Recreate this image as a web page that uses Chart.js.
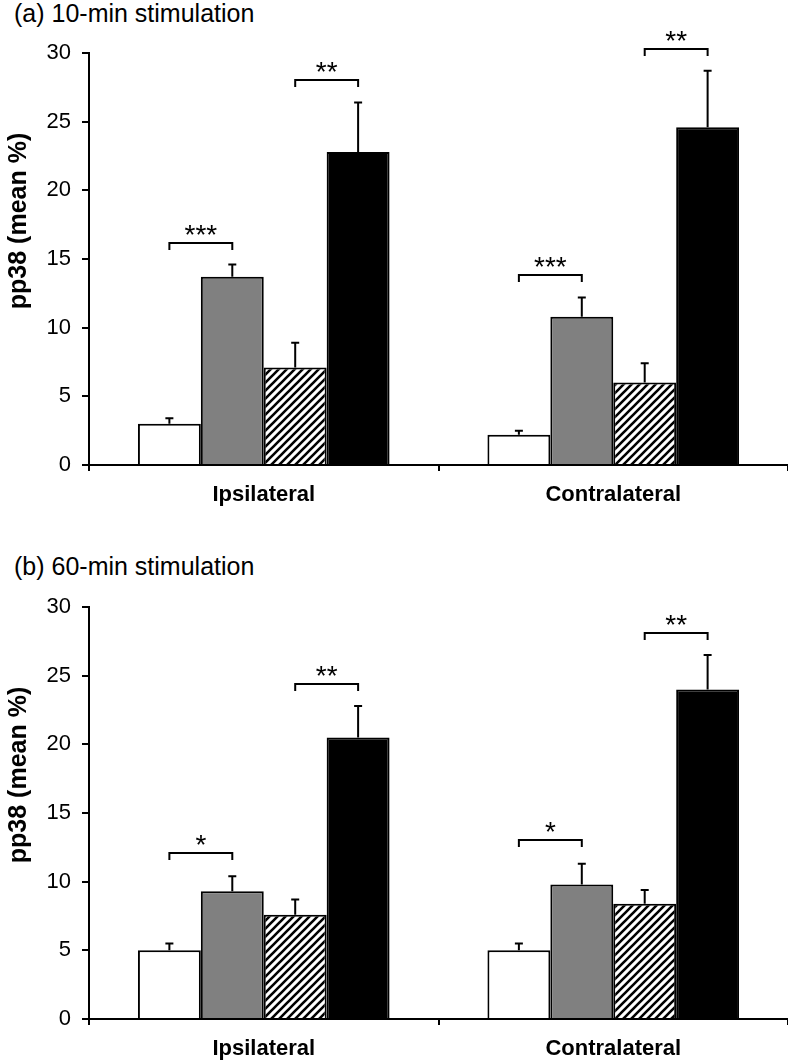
<!DOCTYPE html>
<html>
<head>
<meta charset="utf-8">
<script src="https://cdn.jsdelivr.net/npm/chart.js@4/dist/chart.umd.min.js"></script>
<style>
  body { margin: 0; background: #fff; font-family: "Liberation Sans", Arial, sans-serif; }
  .panel { position: absolute; left: 0; width: 788px; height: 532px; }
  .title { position: absolute; left: 14px; font-size: 25px; color: #000; line-height: 26px; }
</style>
</head>
<body>
<div class="title" style="top:0px">(a) 10-min stimulation</div>
<div class="panel" style="top:0"><canvas id="chartA" width="788" height="532"></canvas></div>
<div class="title" style="top:553px">(b) 60-min stimulation</div>
<div class="panel" style="top:554px"><canvas id="chartB" width="788" height="532"></canvas></div>
<script>
// categories
const sides = ['Ipsilateral', 'Contralateral'];
const yTicks = [0, 5, 10, 15, 20, 25, 30];
const yTitle = 'pp38 (mean %)';

// (a) 10-min stimulation
const a_white = [3.0, 2.2];
const a_whiteErr = [0.4, 0.3];
const a_gray = [13.7, 10.8];
const a_grayErr = [0.9, 1.4];
const a_hatch = [7.1, 6.0];
const a_hatchErr = [1.8, 1.4];
const a_black = [22.8, 24.6];
const a_blackErr = [3.6, 4.1];
// significance brackets: [category, bar from, bar to, height, stars]
const a_brackets = [
    [0, 0, 1, 16.2, '***'],
    [0, 2, 3, 28.0, '**'],
    [1, 0, 1, 13.8, '***'],
    [1, 2, 3, 30.3, '**']
];

// (b) 60-min stimulation
const b_white = [5.0, 5.0];
const b_whiteErr = [0.5, 0.5];
const b_gray = [9.3, 9.8];
const b_grayErr = [1.1, 1.5];
const b_hatch = [7.6, 8.4];
const b_hatchErr = [1.1, 1.0];
const b_black = [20.5, 24.0];
const b_blackErr = [2.3, 2.5];
const b_brackets = [
    [0, 0, 1, 12.1, '*'],
    [0, 2, 3, 24.4, '**'],
    [1, 0, 1, 13.0, '*'],
    [1, 2, 3, 28.1, '**']
];

const fontName = '"Liberation Sans", Arial, sans-serif';
Chart.defaults.font.family = fontName;
Chart.defaults.color = '#000';

// diagonal stripes for the third bar
function makeHatch() {
    const c = document.createElement('canvas');
    c.width = 8;
    c.height = 8;
    const g = c.getContext('2d');
    g.fillStyle = '#fff';
    g.fillRect(0, 0, 8, 8);
    g.strokeStyle = '#000';
    g.lineWidth = 2.6;
    g.beginPath();
    g.moveTo(-2, 10); g.lineTo(10, -2);
    g.moveTo(-2, 2); g.lineTo(2, -2);
    g.moveTo(6, 10); g.lineTo(10, 6);
    g.stroke();
    return c.getContext('2d').createPattern(c, 'repeat');
}

// error bars (upper only) from the errors kept on each dataset
const errorBars = {
    id: 'errorBars',
    afterDatasetsDraw(chart) {
        const ctx = chart.ctx;
        const y = chart.scales.y;
        ctx.save();
        ctx.strokeStyle = '#000';
        ctx.lineWidth = 2;
        chart.data.datasets.forEach((ds, i) => {
            chart.getDatasetMeta(i).data.forEach((bar, j) => {
                const top = y.getPixelForValue(ds.data[j] + ds.errors[j]);
                ctx.beginPath();
                ctx.moveTo(bar.x, bar.y);
                ctx.lineTo(bar.x, top);
                ctx.moveTo(bar.x - 4, top);
                ctx.lineTo(bar.x + 4, top);
                ctx.stroke();
            });
        });
        ctx.restore();
    }
};

// significance brackets with stars
const sigBrackets = {
    id: 'sigBrackets',
    afterDatasetsDraw(chart, args, opts) {
        const ctx = chart.ctx;
        const y = chart.scales.y;
        ctx.save();
        ctx.strokeStyle = '#000';
        ctx.fillStyle = '#000';
        ctx.lineWidth = 2;
        ctx.font = '28px ' + fontName;
        ctx.textAlign = 'center';
        ctx.textBaseline = 'alphabetic';
        opts.list.forEach(b => {
            const x1 = chart.getDatasetMeta(b[1]).data[b[0]].x;
            const x2 = chart.getDatasetMeta(b[2]).data[b[0]].x;
            const py = Math.round(y.getPixelForValue(b[3]));
            ctx.beginPath();
            ctx.moveTo(x1, py + 7);
            ctx.lineTo(x1, py);
            ctx.lineTo(x2, py);
            ctx.lineTo(x2, py + 7);
            ctx.stroke();
            ctx.fillText(b[4], (x1 + x2) / 2, py + 1);
        });
        ctx.restore();
    }
};

// rotated y axis title, sitting a little above the middle of the axis
const axisTitle = {
    id: 'axisTitle',
    afterDraw(chart) {
        const ctx = chart.ctx;
        const area = chart.chartArea;
        ctx.save();
        ctx.translate(19, (area.top + area.bottom) / 2 - 38);
        ctx.rotate(-Math.PI / 2);
        ctx.font = 'bold 25px ' + fontName;
        ctx.fillStyle = '#000';
        ctx.textAlign = 'center';
        ctx.textBaseline = 'middle';
        ctx.fillText(yTitle, 0, 0);
        ctx.restore();
    }
};

function makeChart(id, white, whiteErr, gray, grayErr, hatch, hatchErr, black, blackErr, brackets) {
    const barStyle = { borderColor: '#000', borderWidth: 2, barPercentage: 1.0, categoryPercentage: 0.72 };
    return new Chart(document.getElementById(id), {
        type: 'bar',
        data: {
            labels: sides,
            datasets: [
                Object.assign({ data: white, errors: whiteErr, backgroundColor: '#fff' }, barStyle),
                Object.assign({ data: gray, errors: grayErr, backgroundColor: '#808080' }, barStyle),
                Object.assign({ data: hatch, errors: hatchErr, backgroundColor: makeHatch() }, barStyle),
                Object.assign({ data: black, errors: blackErr, backgroundColor: '#000' }, barStyle)
            ]
        },
        options: {
            responsive: false,
            animation: false,
            layout: { padding: { top: 53, right: 0, left: 0, bottom: 0 } },
            plugins: {
                legend: { display: false },
                tooltip: { enabled: false },
                sigBrackets: { list: brackets }
            },
            scales: {
                x: {
                    grid: { drawOnChartArea: false, color: '#000', lineWidth: 2, tickLength: 6 },
                    border: { color: '#000', width: 2 },
                    ticks: { font: { size: 22, weight: 'bold' }, padding: 11 },
                    afterFit(scale) { scale.height = 67; }
                },
                y: {
                    min: 0,
                    max: 30,
                    afterBuildTicks(scale) { scale.ticks = yTicks.map(v => ({ value: v })); },
                    grid: { drawOnChartArea: false, color: '#000', lineWidth: 2, tickLength: 7 },
                    border: { color: '#000', width: 2 },
                    ticks: { font: { size: 22 }, padding: 11 },
                    afterFit(scale) { scale.width = 89; }
                }
            }
        },
        plugins: [errorBars, sigBrackets, axisTitle]
    });
}

makeChart('chartA', a_white, a_whiteErr, a_gray, a_grayErr, a_hatch, a_hatchErr, a_black, a_blackErr, a_brackets);
makeChart('chartB', b_white, b_whiteErr, b_gray, b_grayErr, b_hatch, b_hatchErr, b_black, b_blackErr, b_brackets);
</script>
</body>
</html>
